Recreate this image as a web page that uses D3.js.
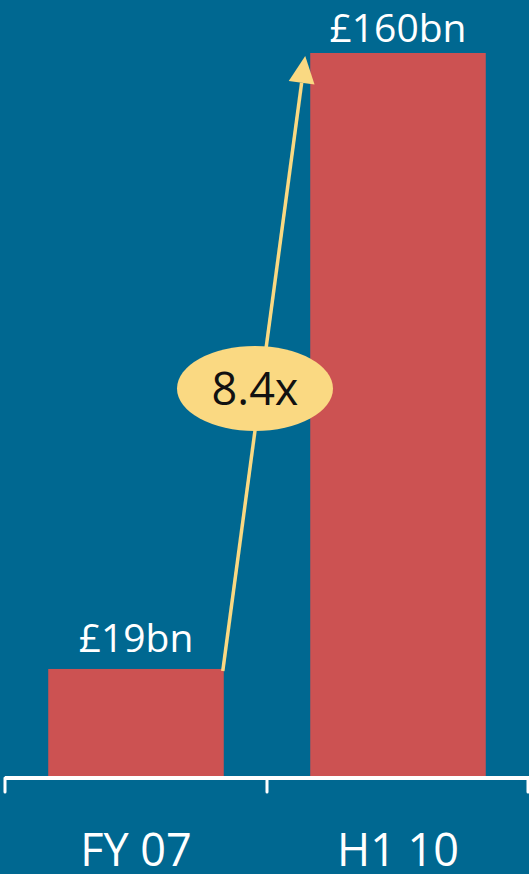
<!DOCTYPE html>
<html>
<head>
<meta charset="utf-8">
<script src="https://cdn.jsdelivr.net/npm/d3@7"></script>
<style>
  html, body { margin: 0; padding: 0; background: #006891; }
  svg { display: block; }
</style>
</head>
<body>
<svg id="chart" width="529" height="874"></svg>
<script>
// Balance growth between the two reporting periods
const categories = ["FY 07", "H1 10"];
const values = [19, 160];
const valueLabels = ["£19bn", "£160bn"];
const multipleLabel = "8.4x";

const W = 529, H = 874;
const svg = d3.select("#chart");
const baseline = 776;

svg.append("rect").attr("width", W).attr("height", H).attr("fill", "#006891");

const x = d3.scaleBand()
  .domain(categories)
  .range([5, 529])
  .paddingInner(0.33)
  .paddingOuter(0.165);

const y = d3.scaleLinear()
  .domain([-5.5, 160])
  .range([baseline, 53]);

// bars
svg.selectAll("rect.bar")
  .data(values)
  .join("rect")
  .attr("class", "bar")
  .attr("x", (d, i) => x(categories[i]))
  .attr("width", x.bandwidth())
  .attr("y", d => y(d))
  .attr("height", d => baseline - y(d))
  .attr("fill", "#CC5252");

// value labels
svg.selectAll("text.value")
  .data(values)
  .join("text")
  .attr("class", "value")
  .attr("x", (d, i) => x(categories[i]) + x.bandwidth() / 2)
  .attr("y", (d, i) => y(d) - (i === 0 ? 17 : 11))
  .attr("text-anchor", "middle")
  .attr("fill", "#ffffff")
  .attr("font-family", "'Open Sans', sans-serif")
  .attr("font-size", 39)
  .text((d, i) => valueLabels[i]);

// axis: baseline with boundary ticks, category labels beneath
const axis = svg.append("g").attr("transform", `translate(0,${baseline + 2})`);
const [r0, r1] = x.range();
const bounds = [r0, r0 + x.step(), r1 - 1];
axis.append("line")
  .attr("x1", r0).attr("x2", r1)
  .attr("stroke", "#ffffff").attr("stroke-width", 4);
axis.selectAll("line.tick")
  .data(bounds)
  .join("line")
  .attr("class", "tick")
  .attr("x1", d => d).attr("x2", d => d)
  .attr("y1", 0).attr("y2", 14)
  .attr("stroke", "#ffffff").attr("stroke-width", 3)
  .attr("stroke-linecap", "round");
axis.selectAll("text.cat")
  .data(categories)
  .join("text")
  .attr("class", "cat")
  .attr("x", d => x(d) + x.bandwidth() / 2)
  .attr("y", 88)
  .attr("text-anchor", "middle")
  .attr("fill", "#ffffff")
  .attr("font-family", "'Open Sans', sans-serif")
  .attr("font-size", 45)
  .text(d => d);

// growth arrow from first bar's top-right corner to the second bar's top
const start = [x(categories[0]) + x.bandwidth() - 1, y(values[0]) + 2];
const tip = [x(categories[1]) - 5, y(values[1]) + 3];
const ang = Math.atan2(tip[1] - start[1], tip[0] - start[0]);
const headLen = 27, headHalf = 13;
const baseC = [tip[0] - headLen * Math.cos(ang), tip[1] - headLen * Math.sin(ang)];
const nx = -Math.sin(ang), ny = Math.cos(ang);

svg.append("line")
  .attr("x1", start[0]).attr("y1", start[1])
  .attr("x2", baseC[0]).attr("y2", baseC[1])
  .attr("stroke", "#FAD982").attr("stroke-width", 3.5);
svg.append("path")
  .attr("d", d3.line()([
    tip,
    [baseC[0] + nx * headHalf, baseC[1] + ny * headHalf],
    [baseC[0] - nx * headHalf, baseC[1] - ny * headHalf]
  ]) + "Z")
  .attr("fill", "#FAD982");

// multiple badge
svg.append("ellipse")
  .attr("cx", 255).attr("cy", 388.5)
  .attr("rx", 78).attr("ry", 42.5)
  .attr("fill", "#FAD982");
svg.append("text")
  .attr("x", 255).attr("y", 405)
  .attr("text-anchor", "middle")
  .attr("fill", "#111111")
  .attr("font-family", "'Open Sans', sans-serif")
  .attr("font-size", 45)
  .text(multipleLabel);
</script>
</body>
</html>
